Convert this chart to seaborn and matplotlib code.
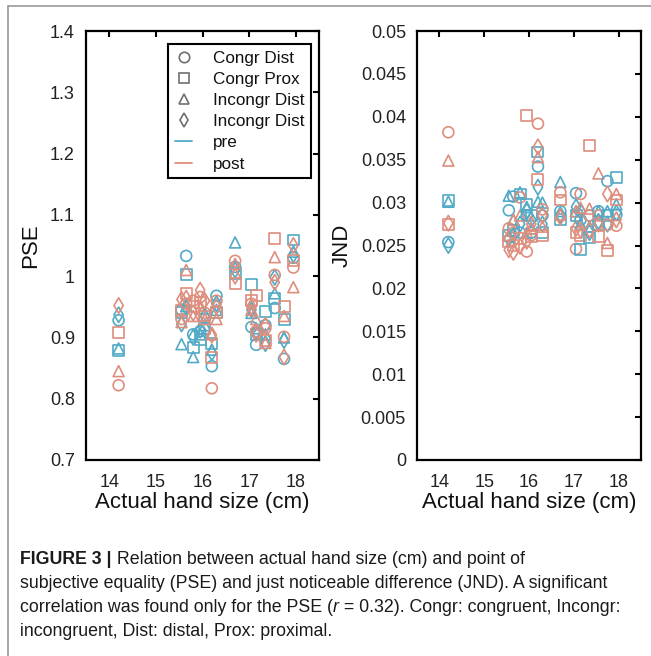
import numpy as np
import pandas as pd
import matplotlib
matplotlib.use("Agg")
import matplotlib.pyplot as plt
from matplotlib.lines import Line2D
import seaborn as sns

# ---------------- data ----------------
hand_size = [14.2, 15.55, 15.65, 15.8, 15.95, 16.05, 16.2, 16.3, 16.7,
             17.05, 17.15, 17.35, 17.55, 17.75, 17.95]
conditions = ["Congr Dist", "Congr Prox", "Incongr Dist", "Incongr Dist 2"]
legend_labels = ["Congr Dist", "Congr Prox", "Incongr Dist", "Incongr Dist"]
sessions = ["pre", "post"]

# PSE, per participant: [Congr Dist, Congr Prox, Incongr Dist, Incongr Dist 2]
pse_pre = [
    [0.928, 0.878, 0.882, 0.937],
    [0.945, 0.940, 0.889, 0.922],
    [1.033, 1.003, 0.951, 0.950],
    [0.905, 0.884, 0.868, 0.900],
    [0.910, 0.897, 0.905, 0.912],
    [0.930, 0.915, 0.920, 0.935],
    [0.853, 0.890, 0.880, 0.875],
    [0.968, 0.940, 0.945, 0.955],
    [1.015, 1.005, 1.055, 1.010],
    [0.917, 0.986, 0.940, 0.945],
    [0.888, 0.905, 0.915, 0.910],
    [0.920, 0.942, 0.905, 0.890],
    [0.948, 0.963, 0.972, 0.998],
    [0.865, 0.929, 0.900, 0.895],
    [1.030, 1.059, 1.040, 1.035],
]
pse_post = [
    [0.822, 0.908, 0.845, 0.952],
    [0.930, 0.944, 0.925, 0.962],
    [0.955, 0.972, 1.010, 0.964],
    [0.960, 0.950, 0.935, 0.940],
    [0.966, 0.957, 0.948, 0.977],
    [0.940, 0.935, 0.930, 0.960],
    [0.817, 0.868, 0.905, 0.904],
    [0.960, 0.940, 0.930, 0.950],
    [1.025, 0.988, 1.020, 1.000],
    [0.955, 0.960, 0.945, 0.950],
    [0.910, 0.968, 0.930, 0.905],
    [0.915, 0.895, 0.891, 0.920],
    [1.002, 1.062, 1.031, 0.990],
    [0.901, 0.950, 0.935, 0.868],
    [1.014, 1.026, 0.982, 1.050],
]
jnd_pre = [
    [0.0254, 0.0302, 0.0301, 0.0250],
    [0.0291, 0.0262, 0.0308, 0.0258],
    [0.0307, 0.0268, 0.0280, 0.0262],
    [0.0265, 0.0310, 0.0312, 0.0275],
    [0.0285, 0.0298, 0.0295, 0.0290],
    [0.0265, 0.0285, 0.0270, 0.0280],
    [0.0342, 0.0359, 0.0301, 0.0318],
    [0.0285, 0.0265, 0.0300, 0.0275],
    [0.0290, 0.0280, 0.0324, 0.0286],
    [0.0311, 0.0285, 0.0290, 0.0295],
    [0.0280, 0.0245, 0.0275, 0.0290],
    [0.0285, 0.0259, 0.0272, 0.0265],
    [0.0290, 0.0275, 0.0290, 0.0278],
    [0.0325, 0.0285, 0.0290, 0.0275],
    [0.0286, 0.0329, 0.0298, 0.0288],
]
jnd_post = [
    [0.0382, 0.0274, 0.0349, 0.0276],
    [0.0270, 0.0255, 0.0262, 0.0245],
    [0.0265, 0.0250, 0.0280, 0.0242],
    [0.0306, 0.0258, 0.0285, 0.0249],
    [0.0243, 0.0402, 0.0265, 0.0255],
    [0.0262, 0.0260, 0.0270, 0.0275],
    [0.0392, 0.0327, 0.0353, 0.0365],
    [0.0292, 0.0262, 0.0272, 0.0285],
    [0.0312, 0.0303, 0.0286, 0.0283],
    [0.0246, 0.0265, 0.0290, 0.0270],
    [0.0310, 0.0262, 0.0294, 0.0268],
    [0.0285, 0.0367, 0.0293, 0.0268],
    [0.0285, 0.0260, 0.0334, 0.0275],
    [0.0274, 0.0244, 0.0253, 0.0310],
    [0.0273, 0.0303, 0.0310, 0.0280],
]

pse_ticks = [0.7, 0.8, 0.9, 1.0, 1.1, 1.2, 1.3, 1.4]
pse_ticklabels = ["0.7", "0.8", "0.9", "1", "1.1", "1.2", "1.3", "1.4"]
jnd_ticks = [0, 0.005, 0.01, 0.015, 0.02, 0.025, 0.03, 0.035, 0.04, 0.045, 0.05]
jnd_ticklabels = ["0", "0.005", "0.01", "0.015", "0.02", "0.025", "0.03",
                  "0.035", "0.04", "0.045", "0.05"]
x_ticks = [14, 15, 16, 17, 18]

caption_lines = [
    [("FIGURE 3 |", "bold"), (" Relation between actual hand size (cm) and point of", "normal")],
    [("subjective equality (PSE) and just noticeable difference (JND). A significant", "normal")],
    [("correlation was found only for the PSE (", "normal"), ("r", "italic"),
     (" = 0.32). Congr: congruent, Incongr:", "normal")],
    [("incongruent, Dist: distal, Prox: proximal.", "normal")],
]


def to_long(pre, post):
    rows = []
    for i, hs in enumerate(hand_size):
        for sess, arr in (("pre", pre), ("post", post)):
            for j, c in enumerate(conditions):
                rows.append({"hand": hs, "value": arr[i][j], "session": sess, "cond": c})
    return pd.DataFrame(rows)


df_pse = to_long(pse_pre, pse_post)
df_jnd = to_long(jnd_pre, jnd_post)

# ---------------- style ----------------
sns.set_theme(style="white")
plt.rcParams["font.family"] = ["Liberation Sans", "DejaVu Sans"]

BLUE = "#52AAC6"
RED = "#DE8E7D"
palette = {"pre": BLUE, "post": RED}
marker_map = {"Congr Dist": "o", "Congr Prox": "s", "Incongr Dist": "^", "Incongr Dist 2": "d"}

fig = plt.figure(figsize=(6.51, 6.56), dpi=100)
W, H = 651, 656
ax1 = fig.add_axes([86 / W, 1 - 460 / H, (319 - 86) / W, (460 - 31) / H])
ax2 = fig.add_axes([417 / W, 1 - 460 / H, (641 - 417) / W, (460 - 31) / H])


def draw(ax, df, yticks, yticklabels, ylim, ylabel):
    sns.scatterplot(data=df, x="hand", y="value", hue="session", style="cond",
                    palette=palette, markers=marker_map, hue_order=sessions,
                    style_order=conditions, s=62, linewidth=1.2, ax=ax, legend=False)
    for coll in ax.collections:
        fc = coll.get_facecolors()
        coll.set_edgecolors(fc)
        coll.set_facecolors("none")
    ax.set_xlim(13.5, 18.5)
    ax.set_ylim(*ylim)
    ax.set_xticks(x_ticks)
    ax.set_xticklabels([str(t) for t in x_ticks])
    ax.set_yticks(yticks)
    ax.set_yticklabels(yticklabels)
    ax.tick_params(direction="in", length=4, width=1.5, top=True, right=True,
                   labelsize=13, labelcolor="#222222", colors="black", pad=8)
    ax.tick_params(axis="x", pad=10)
    for sp in ax.spines.values():
        sp.set_visible(True)
        sp.set_color("black")
        sp.set_linewidth(1.6)
    ax.set_xlabel("Actual hand size (cm)", fontsize=16, color="#111111", labelpad=1)
    ax.set_ylabel(ylabel, fontsize=16, color="#111111", labelpad=6)


draw(ax1, df_pse, pse_ticks, pse_ticklabels, (0.7, 1.4), "PSE")
draw(ax2, df_jnd, jnd_ticks, jnd_ticklabels, (0, 0.05), "JND")

# legend
GRAY = "#6f6f6f"
handles = [Line2D([], [], ls="none", marker=marker_map[c], markersize=7.5,
                  markerfacecolor="none", markeredgecolor=GRAY, markeredgewidth=1.2)
           for c in conditions]
handles += [Line2D([], [], color=BLUE, lw=1.3), Line2D([], [], color=RED, lw=1.3)]
leg = ax1.legend(handles, legend_labels + sessions, loc="upper right",
                 bbox_to_anchor=(311 / W, 1 - 44 / H), bbox_transform=fig.transFigure,
                 fontsize=12.3, frameon=True, fancybox=False, framealpha=1,
                 edgecolor="black", handlelength=1.0, handletextpad=1.2,
                 labelspacing=0.36, borderpad=0.4, borderaxespad=0)
leg.get_frame().set_linewidth(1.5)
for t in leg.get_texts():
    t.set_color("#111111")

# page frame
fig.add_artist(Line2D([8 / W, 1.0], [1 - 6 / H, 1 - 6 / H], transform=fig.transFigure,
                      color="#9a9a9a", lw=1.2))
fig.add_artist(Line2D([8 / W, 8 / W], [0, 1 - 6 / H], transform=fig.transFigure,
                      color="#9a9a9a", lw=1.2))

# caption
cap_family = ["Liberation Sans", "DejaVu Sans"]
baselines = [564, 588, 612, 636]
for line, yb in zip(caption_lines, baselines):
    prev = None
    for txt, sty in line:
        kw = dict(fontsize=12.8, color="#1a1a1a", family=cap_family, va="bottom", ha="left")
        if sty == "bold":
            kw["fontweight"] = "bold"
        if sty == "italic":
            kw["fontstyle"] = "italic"
        if prev is None:
            prev = fig.text(20 / W, 1 - (yb + 4) / H, txt, **kw)
        else:
            prev = plt.annotate(txt, xy=(1, 0), xycoords=prev, **kw)

fig.savefig("out.png", dpi=100)
